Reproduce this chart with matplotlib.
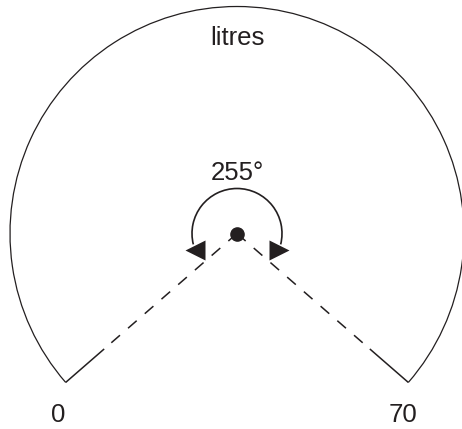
import numpy as np
import matplotlib.pyplot as plt
from matplotlib.patches import Arc

# gauge description
unit_label = "litres"
sweep_label = "255°"
scale_labels = ["0", "70"]
scale_angles = [221, -41]   # angle (deg) of the start / end of the scale
ink = "#231f20"

plt.rcParams['font.family'] = ['Liberation Sans', 'DejaVu Sans']

fig = plt.figure(figsize=(4.62, 4.29), dpi=100)
ax = fig.add_axes([0, 0, 1, 1])
ax.set_xlim(0, 462)
ax.set_ylim(0, 429)
ax.axis('off')

cx, cy = 237, 195.5
R = 227

# outer scale arc
ax.add_patch(Arc((cx, cy), 2 * R, 2 * R, theta1=scale_angles[1], theta2=scale_angles[0],
                 color=ink, lw=0.9))

# radial lines: solid stub at the rim, dashed towards the centre
for a in scale_angles:
    t = np.radians(a)
    ux, uy = np.cos(t), np.sin(t)
    ax.plot([cx + R * ux, cx + (R - 51) * ux], [cy + R * uy, cy + (R - 51) * uy],
            color=ink, lw=1.1, solid_capstyle='butt')
    ax.plot([cx, cx + (R - 51) * ux], [cy, cy + (R - 51) * uy],
            color=ink, lw=1.1, dashes=[7.5, 7], dash_capstyle='butt')

# small sweep arc with arrowheads
r = 45
ax.add_patch(Arc((cx, cy), 2 * r, 2 * r, theta1=-14, theta2=194, color=ink, lw=1.2))
for a, m in [(201, '<'), (-21, '>')]:
    t = np.radians(a)
    ax.plot(cx + r * np.cos(t), cy + r * np.sin(t), marker=m, ms=15,
            color=ink, mec='none')

ax.plot(cx, cy, 'o', ms=9.5, color=ink)

# labels
fs = 18.5
ax.text(cx, 429 - 38, unit_label, ha='center', va='center', fontsize=fs, color=ink)
ax.text(cx, 429 - 173, sweep_label, ha='center', va='center', fontsize=fs, color=ink)
ax.text(58, 429 - 415, scale_labels[0], ha='center', va='center', fontsize=fs, color=ink)
ax.text(403, 429 - 415, scale_labels[1], ha='center', va='center', fontsize=fs, color=ink)

fig.savefig("out.png", dpi=100)
